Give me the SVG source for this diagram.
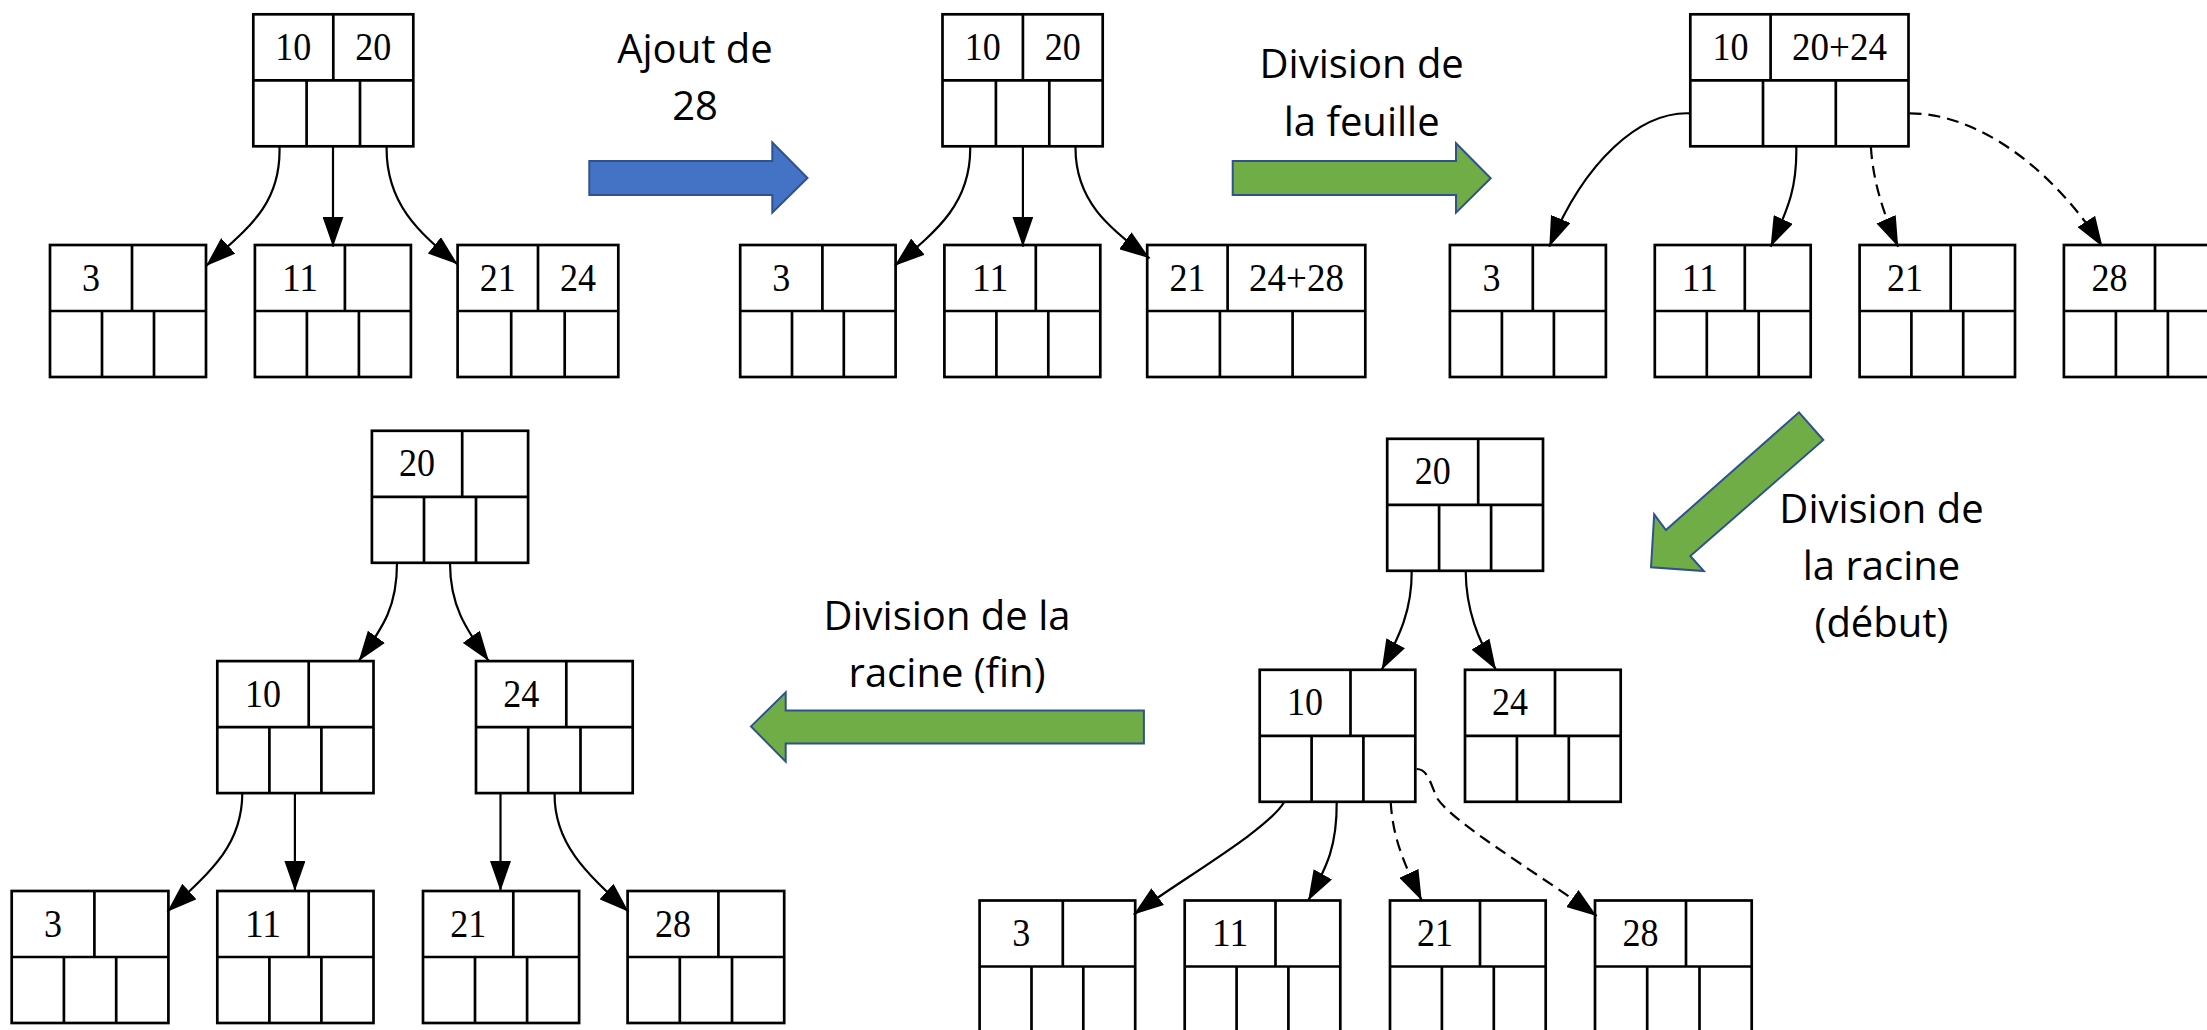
<svg xmlns="http://www.w3.org/2000/svg" width="2207" height="1030" viewBox="0 0 2207 1030">
  <style>
    .node rect { fill: #fff; stroke: #000; stroke-width: 2.7; }
    .node path { fill: none; stroke: #000; stroke-width: 2.7; }
    .node text { font-family: "Liberation Serif", "Times New Roman", serif; font-size: 40px; fill: #000; text-anchor: middle; }
    .edge { fill: none; stroke: #000; stroke-width: 2.2; marker-end: url(#head); }
    .dashed { stroke-dasharray: 12 7; }
    .step { stroke: #2F528F; stroke-width: 2; stroke-linejoin: miter; }
    .blue { fill: #4472C4; }
    .green { fill: #70AD47; }
    .label { font-family: "Open Sans", "Noto Sans", sans-serif; font-size: 40px; fill: #000; text-anchor: middle; }
  </style>
  <defs>
    <marker id="head" viewBox="0 0 30 21" refX="30" refY="10.5" markerWidth="30" markerHeight="21" markerUnits="userSpaceOnUse" orient="auto">
      <path d="M0,0 L30,10.5 L0,21 Z" fill="#000" stroke="none"/>
    </marker>
  </defs>
  <rect width="2207" height="1030" fill="#fff"/>

  <!-- Step 1: initial tree -->
  <g id="p1-root" class="node" transform="translate(253.3,14.3)">
    <rect width="160" height="132"/>
    <path d="M0,66H160M80,0V66M53.3,66V132M106.7,66V132"/>
    <text x="40" y="45.7" textLength="36" lengthAdjust="spacingAndGlyphs">10</text>
    <text x="120" y="45.7" textLength="36" lengthAdjust="spacingAndGlyphs">20</text>
  </g>
  <g id="p1-leaf3" class="node" transform="translate(50,245)">
    <rect width="156" height="132"/>
    <path d="M0,66H156M82,0V66M52,66V132M104,66V132"/>
    <text x="41" y="45.7" textLength="18" lengthAdjust="spacingAndGlyphs">3</text>
  </g>
  <g id="p1-leaf11" class="node" transform="translate(254.9,245)">
    <rect width="156" height="132"/>
    <path d="M0,66H156M90,0V66M52,66V132M104,66V132"/>
    <text x="45" y="45.7" textLength="36" lengthAdjust="spacingAndGlyphs">11</text>
  </g>
  <g id="p1-leaf21" class="node" transform="translate(457.6,245)">
    <rect width="160.7" height="132"/>
    <path d="M0,66H160.7M80.4,0V66M53.6,66V132M107.1,66V132"/>
    <text x="40.2" y="45.7" textLength="36" lengthAdjust="spacingAndGlyphs">21</text>
    <text x="120.5" y="45.7" textLength="36" lengthAdjust="spacingAndGlyphs">24</text>
  </g>

  <!-- Step 2: 28 inserted in the leaf -->
  <g id="p2-root" class="node" transform="translate(942.5,14.3)">
    <rect width="160.2" height="132"/>
    <path d="M0,66H160.2M80.4,0V66M53.4,66V132M106.8,66V132"/>
    <text x="40.2" y="45.7" textLength="36" lengthAdjust="spacingAndGlyphs">10</text>
    <text x="120.3" y="45.7" textLength="36" lengthAdjust="spacingAndGlyphs">20</text>
  </g>
  <g id="p2-leaf3" class="node" transform="translate(740.2,245)">
    <rect width="155.4" height="132"/>
    <path d="M0,66H155.4M82.2,0V66M51.8,66V132M103.6,66V132"/>
    <text x="41.1" y="45.7" textLength="18" lengthAdjust="spacingAndGlyphs">3</text>
  </g>
  <g id="p2-leaf11" class="node" transform="translate(944.4,245)">
    <rect width="155.9" height="132"/>
    <path d="M0,66H155.9M91.4,0V66M52,66V132M103.9,66V132"/>
    <text x="45.7" y="45.7" textLength="36" lengthAdjust="spacingAndGlyphs">11</text>
  </g>
  <g id="p2-leaf21" class="node" transform="translate(1147.2,245)">
    <rect width="218.1" height="132"/>
    <path d="M0,66H218.1M80.4,0V66M72.7,66V132M145.4,66V132"/>
    <text x="40.2" y="45.7" textLength="36" lengthAdjust="spacingAndGlyphs">21</text>
    <text x="149.3" y="45.7" textLength="95" lengthAdjust="spacingAndGlyphs">24+28</text>
  </g>

  <!-- Step 3: leaf split -->
  <g id="p3-root" class="node" transform="translate(1690.3,14.3)">
    <rect width="218.2" height="132"/>
    <path d="M0,66H218.2M80.3,0V66M72.7,66V132M145.5,66V132"/>
    <text x="40.1" y="45.7" textLength="36" lengthAdjust="spacingAndGlyphs">10</text>
    <text x="149.2" y="45.7" textLength="95" lengthAdjust="spacingAndGlyphs">20+24</text>
  </g>
  <g id="p3-leaf3" class="node" transform="translate(1449.9,245)">
    <rect width="156" height="132"/>
    <path d="M0,66H156M82.9,0V66M52,66V132M104,66V132"/>
    <text x="41.5" y="45.7" textLength="18" lengthAdjust="spacingAndGlyphs">3</text>
  </g>
  <g id="p3-leaf11" class="node" transform="translate(1654.8,245)">
    <rect width="155.9" height="132"/>
    <path d="M0,66H155.9M90,0V66M52,66V132M103.9,66V132"/>
    <text x="45" y="45.7" textLength="36" lengthAdjust="spacingAndGlyphs">11</text>
  </g>
  <g id="p3-leaf21" class="node" transform="translate(1859.6,245)">
    <rect width="155.4" height="132"/>
    <path d="M0,66H155.4M91.1,0V66M51.8,66V132M103.6,66V132"/>
    <text x="45.5" y="45.7" textLength="36" lengthAdjust="spacingAndGlyphs">21</text>
  </g>
  <g id="p3-leaf28" class="node" transform="translate(2063.9,245)">
    <rect width="156" height="132"/>
    <path d="M0,66H156M91.1,0V66M52,66V132M104,66V132"/>
    <text x="45.5" y="45.7" textLength="36" lengthAdjust="spacingAndGlyphs">28</text>
  </g>

  <!-- Step 4: root split (start) -->
  <g id="p4-root" class="node" transform="translate(1387.2,438.8)">
    <rect width="155.8" height="132"/>
    <path d="M0,66H155.8M91,0V66M51.9,66V132M103.9,66V132"/>
    <text x="45.5" y="45.7" textLength="36" lengthAdjust="spacingAndGlyphs">20</text>
  </g>
  <g id="p4-node10" class="node" transform="translate(1259.7,669.8)">
    <rect width="155.6" height="132"/>
    <path d="M0,66H155.6M90.8,0V66M51.9,66V132M103.7,66V132"/>
    <text x="45.4" y="45.7" textLength="36" lengthAdjust="spacingAndGlyphs">10</text>
  </g>
  <g id="p4-node24" class="node" transform="translate(1465,669.8)">
    <rect width="155.7" height="132"/>
    <path d="M0,66H155.7M90,0V66M51.9,66V132M103.8,66V132"/>
    <text x="45" y="45.7" textLength="36" lengthAdjust="spacingAndGlyphs">24</text>
  </g>
  <g id="p4-leaf3" class="node" transform="translate(979.6,900.5)">
    <rect width="155.6" height="132"/>
    <path d="M0,66H155.6M83.2,0V66M51.9,66V132M103.7,66V132"/>
    <text x="41.6" y="45.7" textLength="18" lengthAdjust="spacingAndGlyphs">3</text>
  </g>
  <g id="p4-leaf11" class="node" transform="translate(1184.7,900.5)">
    <rect width="155.6" height="132"/>
    <path d="M0,66H155.6M90.8,0V66M51.9,66V132M103.7,66V132"/>
    <text x="45.4" y="45.7" textLength="36" lengthAdjust="spacingAndGlyphs">11</text>
  </g>
  <g id="p4-leaf21" class="node" transform="translate(1390,900.5)">
    <rect width="155.7" height="132"/>
    <path d="M0,66H155.7M90,0V66M51.9,66V132M103.8,66V132"/>
    <text x="45" y="45.7" textLength="36" lengthAdjust="spacingAndGlyphs">21</text>
  </g>
  <g id="p4-leaf28" class="node" transform="translate(1595,900.5)">
    <rect width="156.7" height="132"/>
    <path d="M0,66H156.7M91,0V66M52.2,66V132M104.5,66V132"/>
    <text x="45.5" y="45.7" textLength="36" lengthAdjust="spacingAndGlyphs">28</text>
  </g>

  <!-- Step 5: root split (end) -->
  <g id="p5-root" class="node" transform="translate(371.9,430.8)">
    <rect width="156.2" height="132"/>
    <path d="M0,66H156.2M90.3,0V66M52.1,66V132M104.1,66V132"/>
    <text x="45.2" y="45.7" textLength="36" lengthAdjust="spacingAndGlyphs">20</text>
  </g>
  <g id="p5-node10" class="node" transform="translate(217.3,661.1)">
    <rect width="156.2" height="132"/>
    <path d="M0,66H156.2M91.4,0V66M52.1,66V132M104.1,66V132"/>
    <text x="45.7" y="45.7" textLength="36" lengthAdjust="spacingAndGlyphs">10</text>
  </g>
  <g id="p5-node24" class="node" transform="translate(476,661.1)">
    <rect width="156.7" height="132"/>
    <path d="M0,66H156.7M90.3,0V66M52.2,66V132M104.5,66V132"/>
    <text x="45.2" y="45.7" textLength="36" lengthAdjust="spacingAndGlyphs">24</text>
  </g>
  <g id="p5-leaf3" class="node" transform="translate(11.7,891)">
    <rect width="156.7" height="132"/>
    <path d="M0,66H156.7M82.7,0V66M52.2,66V132M104.5,66V132"/>
    <text x="41.4" y="45.7" textLength="18" lengthAdjust="spacingAndGlyphs">3</text>
  </g>
  <g id="p5-leaf11" class="node" transform="translate(217.3,891)">
    <rect width="156.2" height="132"/>
    <path d="M0,66H156.2M91.4,0V66M52.1,66V132M104.1,66V132"/>
    <text x="45.7" y="45.7" textLength="36" lengthAdjust="spacingAndGlyphs">11</text>
  </g>
  <g id="p5-leaf21" class="node" transform="translate(423,891)">
    <rect width="156.1" height="132"/>
    <path d="M0,66H156.1M90.3,0V66M52,66V132M104.1,66V132"/>
    <text x="45.2" y="45.7" textLength="36" lengthAdjust="spacingAndGlyphs">21</text>
  </g>
  <g id="p5-leaf28" class="node" transform="translate(627.6,891)">
    <rect width="156.6" height="132"/>
    <path d="M0,66H156.6M90.8,0V66M52.2,66V132M104.4,66V132"/>
    <text x="45.4" y="45.7" textLength="36" lengthAdjust="spacingAndGlyphs">28</text>
  </g>

  <!-- Tree pointers -->
  <g id="connectors">
    <path class="edge" d="M279.5,147 C281,205 248,228 206,266"/>
    <path class="edge" d="M333,147 L333,246.7"/>
    <path class="edge" d="M386.6,147 C386,203 418,232 457.6,264.3"/>

    <path class="edge" d="M970.2,147 C971,203 938,230 894.7,265.7"/>
    <path class="edge" d="M1022.9,147 L1022.9,246.7"/>
    <path class="edge" d="M1075.5,147 C1075,200 1108,228 1149.6,258.3"/>

    <path class="edge" d="M1689,113.3 C1640,112 1585,160 1549.3,246.7"/>
    <path class="edge" d="M1796.3,147 C1797,185 1790,205 1770.6,246.7"/>
    <path class="edge dashed" d="M1870.9,147 C1873,180 1882,210 1898.2,246.7"/>
    <path class="edge dashed" d="M1909.5,113.3 C1975,113 2050,165 2102.5,246.7"/>

    <path class="edge" d="M1411.7,571 C1412,610 1400,635 1381.7,669.8"/>
    <path class="edge" d="M1465.7,571 C1466,610 1478,640 1496,669.8"/>
    <path class="edge" d="M1284.2,802 C1268,830 1180,880 1133.7,914.6"/>
    <path class="edge" d="M1336.7,802 C1337,845 1328,865 1308.2,900.5"/>
    <path class="edge dashed" d="M1390.7,802 C1393,840 1405,865 1421.7,900.5"/>
    <path class="edge dashed" d="M1416.7,769 C1428,769 1431,785 1437,798 C1452,822 1530,868 1596.7,916"/>

    <path class="edge" d="M397,563 C397,605 385,625 358.7,661.1"/>
    <path class="edge" d="M450,563 C450,605 465,628 488.8,661.1"/>
    <path class="edge" d="M242.3,793.5 C242,843 215,868 167.3,911.8"/>
    <path class="edge" d="M294.9,793.5 L294.9,891"/>
    <path class="edge" d="M500.5,793.5 L500.5,891"/>
    <path class="edge" d="M554.6,793.5 C554,843 585,872 628.6,911.8"/>
  </g>

  <!-- Step arrows and captions -->
  <g id="step-add">
    <polygon class="step blue" points="589.3,161 772.3,161 772.3,142.5 807.5,178 772.3,212.7 772.3,195 589.3,195"/>
    <text class="label" x="695" y="63.3">Ajout de</text>
    <text class="label" x="695" y="120">28</text>
  </g>
  <g id="step-leaf-split">
    <polygon class="step green" points="1232.7,161 1456,161 1456,143.3 1490.7,178.3 1456,212.7 1456,195 1232.7,195"/>
    <text class="label" x="1361.7" y="78.3">Division de</text>
    <text class="label" x="1361.7" y="136">la feuille</text>
  </g>
  <g id="step-root-split-start">
    <polygon class="step green" points="1799,412.3 1823.3,440 1690.3,556 1703.8,571 1651,567.3 1654.2,514.3 1665.9,530"/>
    <text class="label" x="1881.5" y="522.7">Division de</text>
    <text class="label" x="1881.5" y="579.5">la racine</text>
    <text class="label" x="1881.5" y="636.7">(début)</text>
  </g>
  <g id="step-root-split-end">
    <polygon class="step green" points="1143.9,710.4 785.7,710.4 785.7,692.4 751,726.4 785.7,761.6 785.7,743.6 1143.9,743.6"/>
    <text class="label" x="947" y="630">Division de la</text>
    <text class="label" x="947" y="687">racine (fin)</text>
  </g>
</svg>
